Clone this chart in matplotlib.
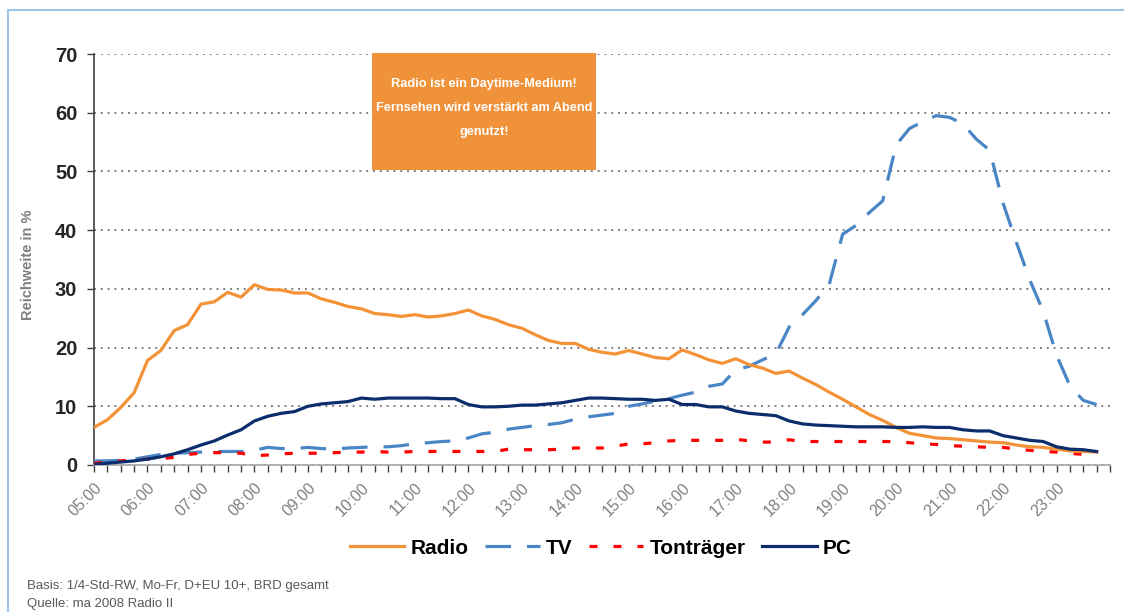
import matplotlib
matplotlib.use("Agg")
from matplotlib import pyplot as plt
from matplotlib.patches import Rectangle
import numpy as np

plt.rcParams['font.family'] = ['Liberation Sans', 'DejaVu Sans']

# quarter-hour slots 05:00 .. 23:45
hours = list(range(5, 24))
slots = ['%02d:%02d' % (h, m) for h in hours for m in (0, 15, 30, 45)]

radio = [6.4, 7.7, 9.8, 12.3, 17.8, 19.5, 22.9, 23.9, 27.4, 27.8, 29.4, 28.6,
         30.7, 29.9, 29.8, 29.3, 29.3, 28.3, 27.7, 27.0, 26.6, 25.8, 25.6, 25.3,
         25.6, 25.2, 25.4, 25.8, 26.4, 25.4, 24.8, 23.9, 23.3, 22.2, 21.2, 20.7,
         20.7, 19.7, 19.2, 18.9, 19.5, 18.9, 18.3, 18.1, 19.6, 18.8, 17.9, 17.3,
         18.1, 17.1, 16.5, 15.6, 16.0, 14.8, 13.7, 12.4, 11.2, 9.9, 8.6, 7.6,
         6.4, 5.4, 5.0, 4.6, 4.5, 4.3, 4.1, 3.9, 3.8, 3.4, 3.1, 3.0,
         2.7, 2.4, 2.3, 2.2]
tv = [0.7, 0.7, 0.8, 1.0, 1.4, 1.8, 2.0, 2.1, 2.2, 2.3, 2.3, 2.3,
      2.5, 3.0, 2.8, 2.8, 3.0, 2.8, 2.7, 2.9, 3.0, 3.1, 3.1, 3.3,
      3.6, 3.8, 4.0, 4.1, 4.6, 5.3, 5.6, 6.1, 6.4, 6.7, 6.9, 7.2,
      7.8, 8.2, 8.5, 8.8, 10.0, 10.4, 10.9, 11.3, 11.9, 12.4, 13.4, 13.8,
      16.2, 16.8, 17.9, 18.9, 23.5, 25.6, 28.0, 30.8, 39.3, 40.8, 43.0, 45.0,
      54.5, 57.3, 58.5, 59.5, 59.2, 58.1, 55.5, 53.6, 44.6, 37.9, 31.5, 26.2,
      18.7, 13.5, 11.0, 10.3]
tontraeger = [0.3, 0.5, 0.7, 0.9, 1.0, 1.1, 1.3, 1.8, 2.0, 2.1, 2.1, 2.0,
              1.6, 1.7, 1.9, 2.0, 2.0, 2.0, 2.1, 2.2, 2.2, 2.3, 2.2, 2.2,
              2.3, 2.3, 2.3, 2.3, 2.3, 2.3, 2.3, 2.7, 2.6, 2.6, 2.6, 2.7,
              2.9, 2.9, 2.9, 3.2, 3.6, 3.6, 3.8, 4.1, 4.2, 4.2, 4.2, 4.2,
              4.4, 4.1, 3.9, 3.9, 4.3, 4.0, 4.0, 4.0, 4.0, 4.0, 4.0, 4.0,
              4.0, 3.8, 3.6, 3.5, 3.3, 3.2, 3.1, 3.0, 3.0, 2.7, 2.5, 2.3,
              2.2, 2.0, 1.8, 1.5]
pc = [0.1, 0.3, 0.5, 0.7, 1.0, 1.4, 1.9, 2.6, 3.4, 4.1, 5.1, 6.0,
      7.5, 8.3, 8.8, 9.1, 10.0, 10.4, 10.6, 10.8, 11.4, 11.2, 11.4, 11.4,
      11.4, 11.4, 11.3, 11.3, 10.3, 9.9, 9.9, 10.0, 10.2, 10.2, 10.4, 10.6,
      11.0, 11.4, 11.4, 11.3, 11.2, 11.2, 11.0, 11.2, 10.3, 10.3, 9.9, 9.9,
      9.2, 8.8, 8.6, 8.4, 7.5, 7.0, 6.8, 6.7, 6.6, 6.5, 6.5, 6.5,
      6.4, 6.4, 6.5, 6.4, 6.4, 6.0, 5.8, 5.8, 5.0, 4.6, 4.2, 4.0,
      3.1, 2.7, 2.6, 2.3]

fig = plt.figure(figsize=(11.24, 6.12), dpi=100)

# light blue frame around the slide
fig.patches.append(Rectangle((8 / 1124, -0.05), 1.2, 1 - 10 / 612 + 0.05,
                             transform=fig.transFigure, fill=False,
                             edgecolor='#9DC3E6', linewidth=1.5))

ax = fig.add_axes([94 / 1124, 1 - 465 / 612, (1110 - 94) / 1124, (465 - 54) / 612])
x = np.arange(len(slots))

ax.plot(x, radio, color='#F39237', lw=2.3, solid_joinstyle='round', label='Radio', zorder=4)
ax.plot(x, tv, color='#4A86C5', lw=2.3, dashes=(8, 5), dash_capstyle='butt', label='TV', zorder=3)
ax.plot(x, tontraeger, color='#FF0000', lw=2.3, dashes=(2.5, 5), dash_capstyle='butt',
        label='Tonträger', zorder=3)
ax.plot(x, pc, color='#0B2D6B', lw=2.3, solid_joinstyle='round', label='PC', zorder=5)

ax.set_xlim(0, len(slots))
ax.set_ylim(0, 70)
ax.set_yticks(range(0, 71, 10))
ax.set_xticks(range(0, len(slots) + 1))
ax.set_xticklabels([s if s.endswith(':00') else '' for s in slots] + [''],
                   rotation=45, ha='right', rotation_mode='anchor')

for t in ax.get_xticklabels():
    t.set_color('#808080')
    t.set_fontsize(11.5)
for t in ax.get_yticklabels():
    t.set_fontweight('bold')
    t.set_fontsize(14.5)
    t.set_color('#262626')

ax.tick_params(axis='x', length=5, width=1, color='#404040', pad=6)
ax.tick_params(axis='y', length=5, width=1, color='#404040', pad=7)

ax.grid(axis='y', color='#808080', linestyle=(0, (1, 2.5)), linewidth=1.4)
ax.set_axisbelow(True)
for s in ('top', 'right'):
    ax.spines[s].set_visible(False)
ax.spines['left'].set_color('#404040')
ax.spines['left'].set_linewidth(1.2)
ax.spines['bottom'].set_color('#A6A6A6')
ax.spines['bottom'].set_linewidth(1.2)

fig.text(28 / 1124, 1 - 265 / 612, 'Reichweite in %', rotation=90, ha='center', va='center',
         fontsize=10.5, fontweight='bold', color='#7F7F7F')

# orange call-out box
fig.patches.append(Rectangle((372 / 1124, 1 - 170 / 612), 224 / 1124, 117 / 612,
                             transform=fig.transFigure, facecolor='#F0923A',
                             edgecolor='none', zorder=6))
fig.text(484 / 1124, 1 - 108 / 612,
         'Radio ist ein Daytime-Medium!\nFernsehen wird verstärkt am Abend\ngenutzt!',
         ha='center', va='center', color='white', fontsize=9.2, fontweight='bold',
         linespacing=2.35, zorder=7)

leg = fig.legend(loc='center', bbox_to_anchor=(601 / 1124, 1 - 548 / 612), ncol=4,
                 frameon=False, handlelength=2.6, handletextpad=0.3, columnspacing=0.8,
                 prop={'weight': 'bold', 'size': 15})

fig.text(27 / 1124, 1 - 586 / 612, 'Basis: 1/4-Std-RW, Mo-Fr, D+EU 10+, BRD gesamt',
         fontsize=9.5, color='#595959', va='center')
fig.text(27 / 1124, 1 - 604 / 612, 'Quelle: ma 2008 Radio II',
         fontsize=9.5, color='#595959', va='center')

fig.savefig('out.png', dpi=100)
